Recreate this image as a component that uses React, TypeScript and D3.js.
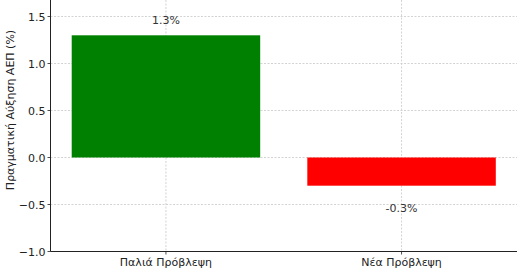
import React from "react";
import * as d3 from "d3";

const categories = ["Παλιά Πρόβλεψη", "Νέα Πρόβλεψη"];
const values = [1.3, -0.3];
const barColors = ["#008000", "#ff0000"];
const valueLabels = ["1.3%", "-0.3%"];
const yTicks = [-1.0, -0.5, 0.0, 0.5, 1.0, 1.5];
const yTitle = "Πραγματική Αύξηση ΑΕΠ (%)";

const W = 520;
const H = 272;
const left = 50.5;
const right = 517;
const bottom = 251.5;
const font = "DejaVu Sans, sans-serif";

export default function App() {
  const y = d3.scaleLinear().domain([-1, 1.5]).range([bottom, 16.5]);
  const x = d3.scaleLinear().domain([-0.49, 1.49]).range([left, right]);
  const bw = 0.8;
  return (
    <svg width={W} height={H} style={{ position: "absolute", left: 0, top: 0 }}>
      <rect x={0} y={0} width={W} height={H} fill="#fff" />
      {yTicks.map((t) => (
        <line key={"gy" + t} x1={left} x2={right} y1={y(t)} y2={y(t)} stroke="#c8c8c8" strokeWidth={0.8} strokeDasharray="2,1.5" />
      ))}
      {categories.map((c, i) => (
        <line key={"gx" + i} x1={x(i)} x2={x(i)} y1={0} y2={bottom} stroke="#c8c8c8" strokeWidth={0.8} strokeDasharray="2,1.5" />
      ))}
      {values.map((v, i) => (
        <rect
          key={"b" + i}
          x={x(i - bw / 2)}
          width={x(i + bw / 2) - x(i - bw / 2)}
          y={y(Math.max(0, v))}
          height={Math.abs(y(v) - y(0))}
          fill={barColors[i]}
        />
      ))}
      {values.map((v, i) => (
        <text
          key={"l" + i}
          x={x(i)}
          y={v >= 0 ? y(v + 0.1) - 2 : y(v - 0.15) + 12}
          textAnchor="middle"
          fontFamily={font}
          fontSize={11}
          fill="#333"
        >
          {valueLabels[i]}
        </text>
      ))}
      <line x1={left} x2={left} y1={0} y2={bottom} stroke="#222" strokeWidth={1} />
      <line x1={left} x2={right} y1={bottom} y2={bottom} stroke="#222" strokeWidth={1} />
      {yTicks.map((t) => (
        <g key={"ty" + t}>
          <line x1={left - 3} x2={left} y1={y(t)} y2={y(t)} stroke="#222" strokeWidth={0.8} />
          <text x={left - 5} y={y(t) + 4} textAnchor="end" fontFamily={font} fontSize={11} fill="#222">
            {t.toFixed(1).replace("-", "−")}
          </text>
        </g>
      ))}
      {categories.map((c, i) => (
        <g key={"tx" + i}>
          <line x1={x(i)} x2={x(i)} y1={bottom} y2={bottom + 3} stroke="#222" strokeWidth={0.8} />
          <text x={x(i)} y={bottom + 14} textAnchor="middle" fontFamily={font} fontSize={11} fill="#222">
            {c}
          </text>
        </g>
      ))}
      <text
        transform={`translate(14, 110) rotate(-90)`}
        textAnchor="middle"
        fontFamily={font}
        fontSize={11}
        fill="#222"
      >
        {yTitle}
      </text>
    </svg>
  );
}
